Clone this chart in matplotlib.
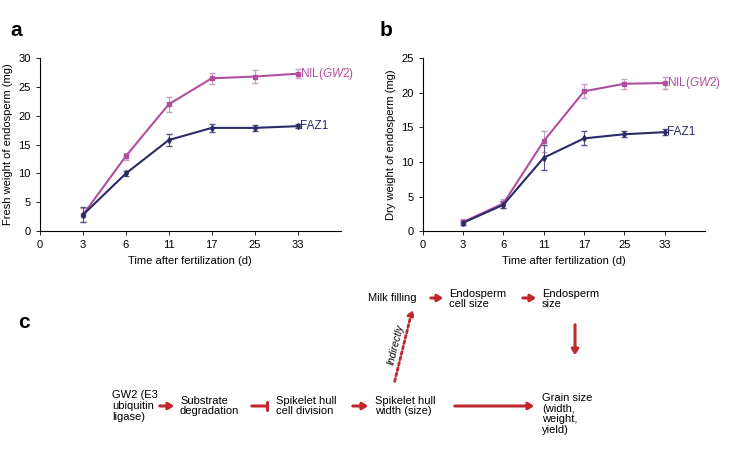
import matplotlib
matplotlib.use("Agg")
import matplotlib.pyplot as plt

ticks = ["0", "3", "6", "11", "17", "25", "33"]
pos = [1, 2, 3, 4, 5, 6]

fresh_nil = [2.8, 13.0, 22.0, 26.5, 26.8, 27.3]
fresh_nil_err = [1.2, 0.6, 1.3, 1.0, 1.2, 0.8]
fresh_faz = [2.8, 10.0, 15.8, 17.9, 17.9, 18.2]
fresh_faz_err = [1.3, 0.5, 1.1, 0.7, 0.5, 0.4]

dry_nil = [1.3, 4.0, 13.0, 20.2, 21.3, 21.4]
dry_nil_err = [0.4, 0.6, 1.5, 1.0, 0.7, 0.8]
dry_faz = [1.2, 3.8, 10.6, 13.4, 14.0, 14.3]
dry_faz_err = [0.3, 0.5, 1.8, 1.0, 0.4, 0.4]

pink = "#b04f9e"
navy = "#2a2a66"
red = "#c0282d"

plt.rcParams["font.family"] = ["Liberation Sans", "DejaVu Sans"]
plt.rcParams["font.size"] = 8
plt.rcParams["mathtext.fontset"] = "custom"
plt.rcParams["mathtext.it"] = "Liberation Sans:italic"
plt.rcParams["mathtext.rm"] = "Liberation Sans"

fig = plt.figure(figsize=(7.39, 4.65), dpi=100)

def panel(rect, nil, nil_e, faz, faz_e, ymax, ylabel, letter, lx):
    ax = fig.add_axes(rect)
    ax.errorbar(pos, nil, yerr=nil_e, color=pink, ecolor="#c89cc4", lw=1.5,
                marker="s", ms=3, capsize=2, elinewidth=0.8)
    ax.errorbar(pos, faz, yerr=faz_e, color=navy, ecolor="#55557f", lw=1.5,
                marker="d", ms=3, capsize=2, elinewidth=0.8)
    ax.text(6.05, nil[-1], "NIL($\\it{GW2}$)", color=pink, va="center", fontsize=8.5)
    ax.text(6.05, faz[-1], "FAZ1", color=navy, va="center", fontsize=8.5)
    ax.set_xlim(0, 7)
    ax.set_ylim(0, ymax)
    ax.set_xticks(range(7))
    ax.set_xticklabels(ticks)
    ax.set_yticks(range(0, ymax + 1, 5))
    ax.set_xlabel("Time after fertilization (d)")
    ax.set_ylabel(ylabel)
    ax.spines["top"].set_visible(False)
    ax.spines["right"].set_visible(False)
    ax.tick_params(length=3, width=0.6)
    fig.text(lx / 739, 1 - 30 / 465, letter, fontsize=15,
             fontweight="bold", va="center")

panel([0.054, 0.503, 0.407, 0.372], fresh_nil, fresh_nil_err, fresh_faz,
      fresh_faz_err, 30, "Fresh weight of endosperm (mg)", "a", 10)
panel([0.572, 0.503, 0.382, 0.372], dry_nil, dry_nil_err, dry_faz,
      dry_faz_err, 25, "Dry weight of endosperm (mg)", "b", 380)

# panel c: pathway diagram, coordinates in pixels from top-left
def px(x, y):
    return (x / 739, 1 - y / 465)

fig.text(*px(18, 322), "c", fontsize=15, fontweight="bold", va="center")
boxes = [
    (368, 298, "Milk filling"),
    (449, 299, "Endosperm\ncell size"),
    (542, 299, "Endosperm\nsize"),
    (112, 406, "GW2 (E3\nubiquitin\nligase)"),
    (180, 406, "Substrate\ndegradation"),
    (276, 406, "Spikelet hull\ncell division"),
    (375, 406, "Spikelet hull\nwidth (size)"),
    (542, 414, "Grain size\n(width,\nweight,\nyield)"),
]
for x, y, s in boxes:
    fig.text(*px(x, y), s, va="center", ha="left", fontsize=8, linespacing=1.1)

arrows = [((157, 406), (177, 406)), ((350, 406), (371, 406)),
          ((452, 406), (537, 406)), ((428, 298), (446, 298)),
          ((520, 298), (539, 298)), ((575, 322), (575, 358))]
for a, b in arrows:
    fig.add_artist(plt.Annotation("", xy=px(*b), xytext=px(*a),
                   xycoords="figure fraction",
                   arrowprops=dict(arrowstyle="-|>,head_width=0.25,head_length=0.4",
                                   color=red, lw=2.2)))
# inhibition
fig.add_artist(plt.Annotation("", xy=px(270, 406), xytext=px(249, 406),
               xycoords="figure fraction",
               arrowprops=dict(arrowstyle="-[,widthB=0.35,lengthB=0", color=red, lw=2.2)))
# indirect dotted
fig.add_artist(plt.Annotation("", xy=px(413, 307), xytext=px(394, 384),
               xycoords="figure fraction",
               arrowprops=dict(arrowstyle="-|>,head_width=0.25,head_length=0.4",
                               color=red, lw=2, linestyle=(0, (1, 1)))))
fig.text(*px(396, 345), "Indirectly", rotation=76, style="italic",
         ha="center", va="center", fontsize=7.5)

fig.savefig("out.png", dpi=100)
